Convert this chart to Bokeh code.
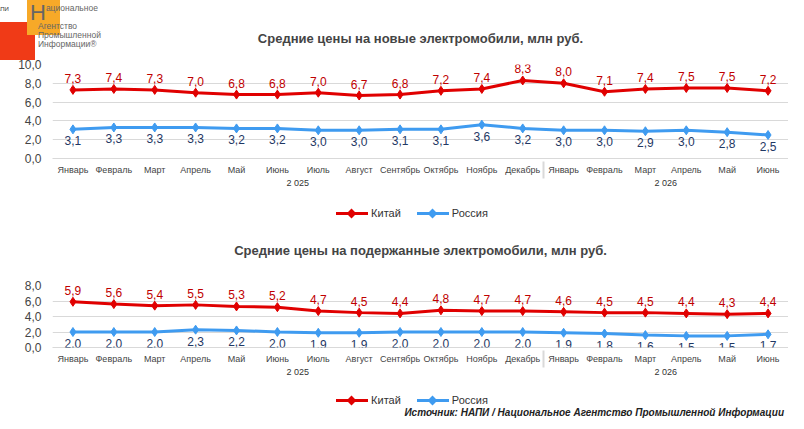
from bokeh.plotting import figure
from bokeh.layouts import column
from bokeh.models import FactorRange, Range1d, ColumnDataSource, SingleIntervalTicker, CustomJSTickFormatter, Div, LabelSet
from bokeh.core.properties import value
from bokeh.embed import file_html
from bokeh.resources import INLINE

months = ["Январь","Февраль","Март","Апрель","Май","Июнь","Июль","Август","Сентябрь","Октябрь","Ноябрь","Декабрь",
          "Январь","Февраль","Март","Апрель","Май","Июнь"]
years = ["2025"]*12 + ["2026"]*6
china_new = [7.3,7.4,7.3,7.0,6.8,6.8,7.0,6.7,6.8,7.2,7.4,8.3,8.0,7.1,7.4,7.5,7.5,7.2]
russia_new = [3.1,3.3,3.3,3.3,3.2,3.2,3.0,3.0,3.1,3.1,3.6,3.2,3.0,3.0,2.9,3.0,2.8,2.5]
china_used = [5.9,5.6,5.4,5.5,5.3,5.2,4.7,4.5,4.4,4.8,4.7,4.7,4.6,4.5,4.5,4.4,4.3,4.4]
russia_used = [2.0,2.0,2.0,2.3,2.2,2.0,1.9,1.9,2.0,2.0,2.0,2.0,1.9,1.8,1.6,1.5,1.5,1.7]
titles = ["Средние цены на новые электромобили, млн руб.", "Средние цены на подержанные электромобили, млн руб."]
series = ["Китай", "Россия"]
source_text = "Источник: НАПИ / Национальное Агентство Промышленной Информации"

RED = "#e00000"
BLUE = "#3f9bf0"
FONT = "Liberation Sans"
factors = list(zip([y[0] + " " + y[1:] for y in years], months))

def make(china, russia, title, ymax, frame_h, top, standoff):
    p = figure(x_range=FactorRange(*factors, group_padding=0, factor_padding=0, range_padding=0),
               y_range=Range1d(0, ymax), frame_width=736, frame_height=frame_h,
               output_backend="svg", toolbar_location=None, margin=0,
               min_border_left=52, min_border_right=0, min_border_top=top, min_border_bottom=0)
    p.title.text = title
    p.title.align = "center"
    p.title.text_font = FONT
    p.title.text_font_size = "13px"
    p.title.text_font_style = "bold"
    p.title.standoff = standoff
    p.outline_line_color = None
    p.xgrid.grid_line_color = None
    p.ygrid.grid_line_color = "#d9d9d9"
    p.yaxis.ticker = SingleIntervalTicker(interval=2)
    p.yaxis.formatter = CustomJSTickFormatter(code="return tick.toFixed(1).replace('.', ',');")
    p.yaxis.axis_line_color = None
    p.yaxis.major_tick_line_color = None
    p.yaxis.minor_tick_line_color = None
    p.yaxis.major_label_text_font_size = "12px"
    p.yaxis.major_label_text_font = FONT
    p.xaxis.axis_line_color = "#d9d9d9"
    p.xaxis.major_tick_line_color = None
    p.xaxis.major_label_text_font_size = "9px"
    p.xaxis.group_text_font_size = "9px"
    p.xaxis.major_label_text_font = FONT
    p.xaxis.group_text_font = FONT
    p.xaxis.group_text_font_style = "normal"
    p.xaxis.group_text_color = "#333333"
    p.xaxis.separator_line_color = "#d9d9d9"
    p.xaxis.major_label_standoff = 0
    p.xaxis.group_label_orientation = "horizontal"
    p.xaxis.subgroup_label_orientation = "horizontal"
    s = ColumnDataSource(dict(x=factors, c=china, r=russia,
                              cl=[f"{v:.1f}".replace(".", ",") for v in china],
                              rl=[f"{v:.1f}".replace(".", ",") for v in russia]))
    p.line("x", "c", source=s, color=RED, line_width=3)
    p.scatter("x", "c", source=s, marker="diamond", size=9, color=RED)
    p.line("x", "r", source=s, color=BLUE, line_width=3)
    p.scatter("x", "r", source=s, marker="diamond", size=9, color=BLUE)
    p.add_layout(LabelSet(x="x", y="c", text="cl", source=s, text_color="#c00000", text_align="center",
                          text_baseline="bottom", y_offset=7, text_font_size="12px", text_font=value(FONT)))
    p.add_layout(LabelSet(x="x", y="r", text="rl", source=s, text_color="#1f3864", text_align="center",
                          text_baseline="top", y_offset=-7, text_font_size="12px", text_font=value(FONT)))
    return p

def legend_html(top, extra=""):
    def item(color, label):
        return (f'<span style="display:inline-flex;align-items:center;margin:0 8px">'
                f'<span style="position:relative;display:inline-block;width:32px;height:3px;background:{color}">'
                f'<span style="position:absolute;left:12px;top:-2px;width:7px;height:7px;background:{color};transform:rotate(45deg)"></span></span>'
                f'<span style="margin-left:3px">{label}</span></span>')
    return (f'<div style="position:relative;width:788px;height:100%;font-family:{FONT};font-size:11px;color:#333">'
            f'<div style="position:absolute;left:0;width:788px;top:{top}px;text-align:center;padding-left:36px">'
            + item(RED, series[0]) + item(BLUE, series[1]) + '</div>' + extra + '</div>')

p1 = make(china_new, russia_new, titles[0], 10, 94, 64, 38)
p2 = make(china_used, russia_used, titles[1], 8, 62, 70, 56)

zs = {"z-index": "10", "position": "relative"}
div1 = Div(text=legend_html(2), width=788, height=22, margin=0, styles=zs)
div2 = Div(text=legend_html(0, f'<div style="position:absolute;right:4px;top:15px;font-weight:bold;font-style:italic;font-size:10px;color:#222">{source_text}</div>'),
           width=788, height=30, margin=0, styles=zs)

top_logo = Div(text=('<div style="position:absolute;left:0;top:0px;width:35px;height:60px;">'
                     '<div style="position:absolute;left:-8px;top:22px;width:43px;height:38px;background:#f03a17"></div>'
                     '<div style="position:absolute;left:27px;top:-8px;width:33px;height:43px;background:#f7a928"></div>'
                     '<div style="position:absolute;left:-8px;top:6px;font-size:6px;line-height:7px;font-family:Liberation Sans;color:#333;background:#fff">НАПИ</div>'
                     '<div style="position:absolute;left:30px;top:4px;font-size:8.5px;line-height:9px;font-family:Liberation Sans Narrow, Liberation Sans;color:#666;white-space:nowrap">'
                     '<span style="font-size:22px;line-height:18px;vertical-align:top">Н</span>ациональное<br><span style="margin-left:8px">Агентство</span><br><span style="margin-left:8px">Промышленной</span><br><span style="margin-left:8px">Информации®</span></div></div>'),
               width=1, height=0, margin=0, styles=zs)

lay = column(top_logo, p1, div1, p2, div2, spacing=0)
open("out.html", "w").write(file_html(lay, INLINE))
